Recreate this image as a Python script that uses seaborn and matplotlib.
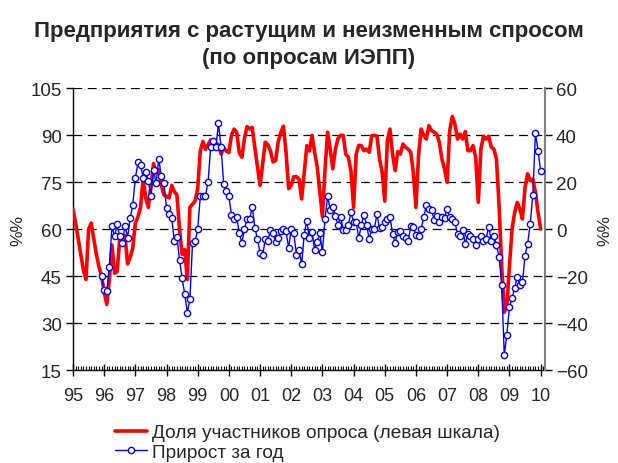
import numpy as np
import pandas as pd
import seaborn as sns
import matplotlib
matplotlib.use("Agg")
import matplotlib.pyplot as plt
from matplotlib.ticker import MultipleLocator

# monthly series, Jan 1995 .. Jan 2010 (left scale, %)
share = [66.5, 62, 57, 52, 47, 44, 60, 62, 57, 52, 48, 45,
         40, 36, 44, 55, 46, 46.5, 57, 58, 58, 49, 51, 54,
         62, 64, 67, 76, 70, 67, 74, 81, 78, 79, 74, 71,
         70.5, 70, 74, 72, 71, 60, 52, 53.5, 44, 67, 68, 69,
         73, 85, 88, 85.5, 87, 88.5, 88, 87.5, 87, 84, 86, 85,
         84.5, 90, 92, 91, 84.5, 83, 89, 92.8, 92, 92.5, 86, 80,
         74, 81, 87.8, 87, 85, 81.5, 82, 88, 91, 92.9, 84.6, 73,
         74, 76.8, 76.8, 76, 69.7, 78, 86.7, 85, 90, 84.6, 80, 72,
         64, 79, 91, 85.6, 79.3, 85.6, 89, 90, 90, 84, 83, 78.5,
         67, 84, 86.8, 86.7, 85.1, 85.6, 84.6, 89.9, 90, 89.7, 82.4, 78.2,
         69, 88.3, 92, 84, 78.7, 84.8, 84, 87.2, 86.2, 85.6, 84.6, 78.2,
         67, 83.5, 92, 89.9, 88.8, 93.1, 91.5, 91, 90.4, 87.8, 82.4, 79.3,
         75, 91.5, 96, 93.6, 88.8, 90.4, 88.8, 91.2, 85.1, 85.1, 86.7, 83,
         68.6, 85.6, 89.7, 88.8, 89.7, 86.2, 85.6, 82.4, 67.6, 48.4, 33.5, 35.6,
         48.4, 60.1, 65.4, 68.6, 66.5, 63.3, 73.4, 77.7, 75.5, 76, 71.8, 65.4,
         60.1]

# year-on-year growth, Dec 1995 .. Jan 2010 (right scale, %)
growth = [-20,
          -26, -26.4, -15.9, 1.3, -3, 2.1, -3, -5.8, 1.6, -3.5, 4.7, 10.4,
          21.7, 28.5, 27.4, 22, 24.3, 20.7, 14.3, 25.2, 19.6, 29.9, 22.6, 19.6,
          8.9, 6.4, 4.7, -5, -3.4, -12.9, -20.9, -27.5, -35.7, -29.6, -6, -5.1,
          0.1, 14, 14, 14.3, 20.3, 34.9, 37.7, 35.2, 45.1, 34.9, 19.1, 16.5,
          14, 6.1, 4.4, 5.4, -1.7, -5.7, 0.1, 4.4, 4.4, 9.5, 0.7, -4,
          -10.2, -11.1, -4.3, -5.1, -0.2, -1.7, -5.4, -3.8, -0.7, 0.3, -0.9, -7.9,
          0, -1.7, -10.8, -8.8, -14.8, -2.3, 3.7, -3.8, -1, -8.7, -5.2, -1.6,
          -9.8, 4.3, 14.3, 8.2, 9.5, 5.8, 2, 5.3, -0.1, -0.1, 2, 7.2,
          3, 3, -3.8, 2, 6.1, 2, -4.3, 0.1, 0.1, 6.5, 0.4, 1.1,
          3, 4.4, 5.4, -1.8, -6, -1, -0.6, -3, -3.8, -5, 1.3, 1.1,
          -2.4, -3, 0.1, 5.1, 10.4, 8.6, 8.2, 4.1, 5.5, 3, 5.3, 4.7,
          8.6, 5.4, 4.4, 3, -2, -2.7, -0.1, -6.2, -2, -2.7, -4.1, -6.5,
          -4.1, -2.7, -4.8, -4.1, 1.1, -4.8, -2.7, -6.7, -11.6, -23.5, -53.4, -44.8,
          -32.9, -29.4, -25, -20.1, -23.5, -22.6, -11.2, -6.1, 2.4, 14.8, 40.9, 33.5,
          25]

year_ticks = list(range(1995, 2011))
year_labels = [f"{y % 100:02d}" for y in year_ticks]

title = "Предприятия с растущим и неизменным спросом\n(по опросам ИЭПП)"
label_share = "Доля участников опроса (левая шкала)"
label_growth = "Прирост за год"

df_share = pd.DataFrame({"t": 1995 + np.arange(len(share)) / 12, "v": share})
df_growth = pd.DataFrame({"t": 1995 + (11 + np.arange(len(growth))) / 12, "v": growth})

sns.set_style("white")
plt.rcParams["font.family"] = ["Liberation Sans", "DejaVu Sans"]

fig = plt.figure(figsize=(6.18, 4.64), dpi=100)
ax = fig.add_axes([73 / 618, 1 - 371.3 / 464, 472 / 618, 282 / 464])
ax2 = ax.twinx()

# red share line on the left axis, blue growth line with markers on the right axis (drawn on top)
sns.lineplot(data=df_share, x="t", y="v", ax=ax, color="#FF0000", lw=2.6,
             label=label_share, legend=False, zorder=3)
sns.lineplot(data=df_growth, x="t", y="v", ax=ax2, color="#0000FF", lw=1.0,
             marker="o", markersize=4.5, markerfacecolor="white",
             markeredgecolor="#0000FF", markeredgewidth=1.0,
             label=label_growth, legend=False, zorder=3)

ax.set_xlim(1995, 2010.14)
ax.set_ylim(15, 105)
ax2.set_ylim(-60, 60)
ax.set_yticks(range(15, 106, 15))
ax2.set_yticks(range(-60, 61, 20))
ax.set_xticks(year_ticks)
ax.set_xticklabels(year_labels)
ax.xaxis.set_minor_locator(MultipleLocator(1 / 12))

for y in range(30, 106, 15):
    ax.axhline(y, color="black", lw=0.9, ls=(0, (7, 4.5)), zorder=1)

ax.set_xlabel("")
ax.set_ylabel("%%", fontsize=12.5, labelpad=4)
ax2.set_xlabel("")
ax2.set_ylabel("%%", fontsize=12.5, labelpad=7)

for a in (ax, ax2):
    a.spines["top"].set_visible(False)
ax.spines["right"].set_visible(False)
ax2.spines["left"].set_visible(False)
ax2.spines["bottom"].set_visible(False)
ax.spines["left"].set_color("black")
ax.spines["left"].set_linewidth(1.0)
ax.spines["bottom"].set_color("black")
ax.spines["bottom"].set_linewidth(1.0)
ax2.spines["right"].set_color("#808080")
ax2.spines["right"].set_linewidth(1.5)

ax.tick_params(axis="y", which="major", direction="out", length=5, width=1,
               color="black", labelsize=13.5, pad=3, left=True)
ax2.tick_params(axis="y", which="major", direction="out", length=5, width=1,
                color="black", labelsize=13.5, pad=3, right=True)
ax.tick_params(axis="x", which="major", direction="inout", length=8, width=1,
               color="black", labelsize=13, pad=8, bottom=True)
ax.tick_params(axis="x", which="minor", direction="in", length=3, width=0.8,
               color="black", bottom=True)

fig.suptitle(title, fontsize=16, fontweight="bold", y=1 - 21 / 464, va="top",
             linespacing=1.4)

h1, l1 = ax.get_legend_handles_labels()
h2, l2 = ax2.get_legend_handles_labels()
fig.legend(h1 + h2, l1 + l2, loc="upper left", bbox_to_anchor=(115 / 618, 1 - 425 / 464),
           frameon=False, fontsize=13.7, handlelength=1.7, handletextpad=0.25,
           labelspacing=0.12, borderaxespad=0, borderpad=0)

fig.savefig("out.png", dpi=100)
